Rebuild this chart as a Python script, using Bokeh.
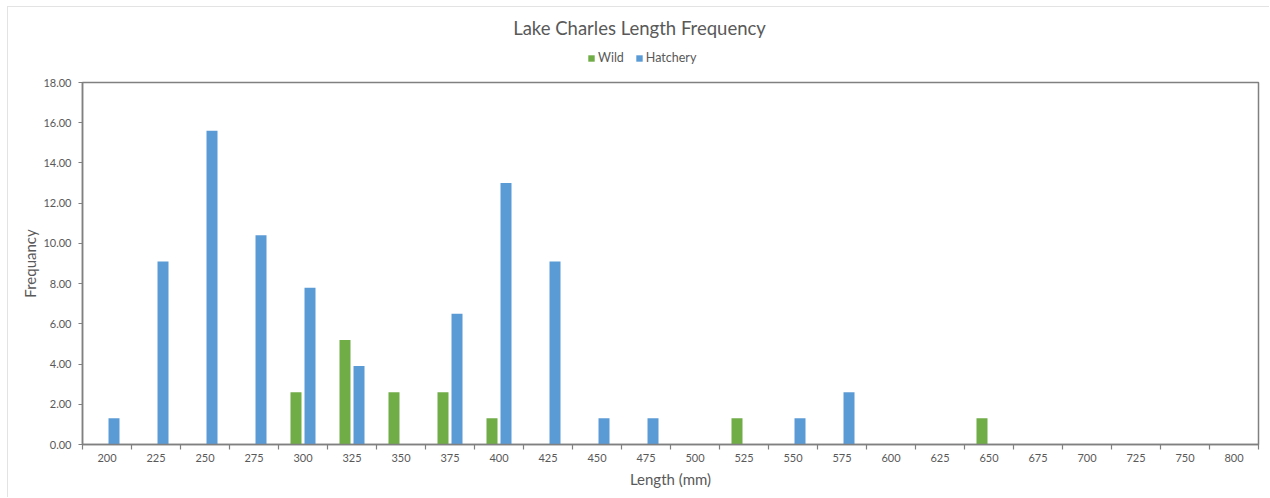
from bokeh.plotting import figure
from bokeh.layouts import column
from bokeh.models import (ColumnDataSource, Range1d, FixedTicker, Label,
                          NumeralTickFormatter, Legend, LegendItem)
from bokeh.transform import dodge
from bokeh.embed import file_html
from bokeh.resources import INLINE

# ---- data ----
lengths = ["200", "225", "250", "275", "300", "325", "350", "375", "400", "425", "450", "475",
           "500", "525", "550", "575", "600", "625", "650", "675", "700", "725", "750", "800"]
wild = [0, 0, 0, 0, 2.6, 5.2, 2.6, 2.6, 1.3, 0, 0, 0,
        0, 1.3, 0, 0, 0, 0, 1.3, 0, 0, 0, 0, 0]
hatchery = [1.3, 9.1, 15.6, 10.4, 7.8, 3.9, 0, 6.5, 13.0, 9.1, 1.3, 1.3,
            0, 0, 1.3, 2.6, 0, 0, 0, 0, 0, 0, 0, 0]
y_ticks = [0, 2, 4, 6, 8, 10, 12, 14, 16, 18]

title_text = "Lake Charles Length Frequency"
x_label = "Length (mm)"
y_label = "Frequancy"
series_names = ["Wild", "Hatchery"]

FONT = "Lato"
TXT = "#595959"
AX = "#808080"
GREEN = "#70AD47"
BLUE = "#5B9BD5"
EDGE = "1px solid #e3e3e3"

n = len(lengths)
pos = [i + 0.5 for i in range(n)]  # category centres on the axis
src = ColumnDataSource(dict(pos=pos, length=lengths, wild=wild, hatchery=hatchery))

FRAME_W = 1176  # plot-area width; the header's frame is aligned with it by the column layout

# ---------------- header (title + legend) ----------------
HH = 70
head = figure(width=1262, height=HH, output_backend="svg", toolbar_location=None,
              x_range=Range1d(0, FRAME_W), y_range=Range1d(0, HH),
              min_border=0, x_axis_location=None, y_axis_location=None)
head.margin = (6, 0, 0, 7)
head.styles = {"border-top": EDGE, "border-left": EDGE}
head.outline_line_color = None
head.xgrid.visible = False
head.ygrid.visible = False
head.add_layout(Label(x=557, y=50, text=title_text, text_align="center", text_baseline="middle",
                      text_font=FONT, text_font_size="18.5px", text_color=TXT))
h_w = head.vbar(x="pos", top="wild", width=0.2, source=src, fill_color=GREEN,
                line_color=None, visible=False)
h_h = head.vbar(x="pos", top="hatchery", width=0.2, source=src, fill_color=BLUE,
                line_color=None, visible=False)
legend = Legend(items=[LegendItem(label=series_names[0], renderers=[h_w]),
                       LegendItem(label=series_names[1], renderers=[h_h])],
                orientation="horizontal", location=(505, 12),
                border_line_color=None, background_fill_alpha=0,
                inactive_fill_alpha=0,
                padding=0, margin=0, spacing=11, label_standoff=3,
                glyph_width=8, glyph_height=8, label_height=14,
                label_text_font=FONT, label_text_font_size="12.5px", label_text_color=TXT)
head.add_layout(legend, "center")

# ---------------- main chart ----------------
p = figure(width=1262, height=421, output_backend="svg", toolbar_location=None,
           x_range=Range1d(0, n), y_range=Range1d(0, 18),
           min_border_left=74, min_border_right=12,
           min_border_top=6, min_border_bottom=53)
p.margin = (0, 0, 0, 7)
p.styles = {"border-left": EDGE}
p.background_fill_color = "white"
p.border_fill_color = "white"
p.xgrid.visible = False
p.ygrid.visible = False
p.outline_line_color = AX
p.outline_line_width = 1.5

bw = 0.2245
off = 0.143
p.vbar(x=dodge("pos", -off), top="wild", width=bw, source=src,
       fill_color=GREEN, line_color=None)
p.vbar(x=dodge("pos", off), top="hatchery", width=bw, source=src,
       fill_color=BLUE, line_color=None)

# y axis
ya = p.yaxis[0]
ya.ticker = FixedTicker(ticks=y_ticks)
ya.formatter = NumeralTickFormatter(format="0.00")
ya.axis_line_color = AX
ya.axis_line_width = 1.5
ya.major_tick_line_color = AX
ya.major_tick_line_width = 1.2
ya.major_tick_out = 4
ya.major_tick_in = 0
ya.minor_tick_line_color = None
ya.major_label_text_font = FONT
ya.major_label_text_font_size = "11px"
ya.major_label_text_color = TXT
ya.major_label_standoff = 7
ya.axis_label = y_label
ya.axis_label_text_font = FONT
ya.axis_label_text_font_size = "15px"
ya.axis_label_text_font_style = "normal"
ya.axis_label_text_color = TXT
ya.axis_label_standoff = 1

# x axis: ticks between categories, labels at category centres
xa = p.xaxis[0]
xa.ticker = FixedTicker(ticks=pos, minor_ticks=list(range(n + 1)))
xa.major_label_overrides = {c: lab for c, lab in zip(pos, lengths)}
xa.axis_line_color = AX
xa.axis_line_width = 1.5
xa.major_tick_line_color = None
xa.minor_tick_line_color = AX
xa.minor_tick_line_width = 1.2
xa.minor_tick_out = 5
xa.minor_tick_in = 0
xa.major_tick_out = 5
xa.major_tick_in = 0
xa.major_label_text_font = FONT
xa.major_label_text_font_size = "11px"
xa.major_label_text_color = TXT
xa.major_label_standoff = 4
xa.axis_label = x_label
xa.axis_label_text_font = FONT
xa.axis_label_text_font_size = "15px"
xa.axis_label_text_font_style = "normal"
xa.axis_label_text_color = TXT
xa.axis_label_standoff = 5

layout = column(head, p, spacing=0)
open("out.html", "w").write(file_html(layout, INLINE))
